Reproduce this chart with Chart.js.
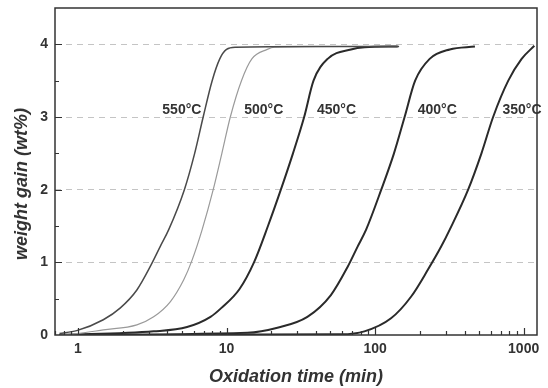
<!DOCTYPE html>
<html>
<head>
<meta charset="utf-8">
<script src="https://cdn.jsdelivr.net/npm/chart.js@4"></script>
<style>
  html, body { margin: 0; padding: 0; background: #fff; }
  #wrap { width: 548px; height: 388px; }
</style>
</head>
<body>
<div id="wrap"><canvas id="chartGain" width="548" height="388"></canvas></div>
<script>
// oxidation time (min) and weight gain (wt%)
var t550 = [0.75, 0.98, 1.48, 1.92, 2.49, 3.06, 3.58, 4.08, 5.2, 6.1, 6.96, 8.0, 9.0, 10.0, 11.5, 40, 145];
var w550 = [0.02, 0.06, 0.21, 0.37, 0.62, 0.94, 1.22, 1.45, 2.0, 2.5, 3.0, 3.5, 3.8, 3.93, 3.96, 3.97, 3.97];

var t500 = [0.75, 1.0, 1.48, 2.49, 3.23, 4.19, 5.15, 5.86, 6.85, 8.13, 9.3, 10.6, 12.6, 14.8, 18.8, 21, 60, 145];
var w500 = [0.0, 0.02, 0.07, 0.14, 0.25, 0.46, 0.76, 1.03, 1.45, 2.0, 2.5, 3.0, 3.5, 3.8, 3.93, 3.96, 3.97, 3.97];

var t450 = [0.75, 3.23, 5.42, 7.8, 9.2, 12.2, 15.3, 19.0, 23.2, 28.0, 33.3, 38.5, 47.9, 68.8, 85, 142];
var w450 = [0.0, 0.05, 0.11, 0.25, 0.37, 0.63, 1.0, 1.5, 2.0, 2.5, 3.0, 3.5, 3.8, 3.93, 3.96, 3.97];

var t400 = [0.75, 13.8, 22, 35, 50.4, 65.4, 76.4, 87, 110, 134, 158, 186, 233, 318, 470];
var w400 = [0.0, 0.03, 0.1, 0.25, 0.55, 0.94, 1.22, 1.45, 2.0, 2.5, 3.0, 3.5, 3.8, 3.93, 3.97];

var t350 = [0.75, 59, 84.7, 128, 175, 227, 279, 318, 423, 520, 623, 788, 969, 1180];
var w350 = [0.0, 0.01, 0.05, 0.23, 0.53, 0.9, 1.22, 1.45, 2.0, 2.5, 3.0, 3.5, 3.8, 3.98];

// curve labels
var labelText = ['550°C', '500°C', '450°C', '400°C', '350°C'];
var labelTime = [5.0, 17.8, 55, 262, 975];
var labelGain = [3.1, 3.1, 3.1, 3.1, 3.1];

var xTickLabels = [1, 10, 100, 1000];
var yTickLabels = [0, 1, 2, 3, 4];

function toPoints(t, w) {
  return t.map(function(v, i) { return { x: v, y: w[i] }; });
}

function makeSet(t, w, color, width) {
  return {
    data: toPoints(t, w),
    borderColor: color,
    borderWidth: width,
    pointRadius: 0,
    fill: false,
    cubicInterpolationMode: 'monotone'
  };
}

// caixa do gráfico, ticks para dentro e rótulos das curvas
var framePlugin = {
  id: 'frame',
  afterDatasetsDraw: function(chart) {
    var ctx = chart.ctx;
    var a = chart.chartArea;
    var x = chart.scales.x;
    var y = chart.scales.y;
    ctx.save();
    ctx.strokeStyle = '#333';
    ctx.lineWidth = 1.5;
    ctx.strokeRect(a.left, a.top, a.right - a.left, a.bottom - a.top);

    ctx.lineWidth = 1.2;
    ctx.beginPath();
    for (var d = 0.1; d <= 1000; d *= 10) {
      for (var m = 1; m <= 9; m++) {
        var v = m * d;
        if (v < x.min || v > x.max) continue;
        var px = Math.round(x.getPixelForValue(v)) + 0.5;
        var len = m === 1 ? 7 : 4;
        ctx.moveTo(px, a.bottom);
        ctx.lineTo(px, a.bottom - len);
      }
    }
    for (var g = 0.5; g < y.max; g += 0.5) {
      var py = Math.round(y.getPixelForValue(g)) + 0.5;
      var l2 = (g % 1 === 0) ? 7 : 4;
      ctx.moveTo(a.left, py);
      ctx.lineTo(a.left + l2, py);
    }
    ctx.stroke();

    ctx.fillStyle = '#333';
    ctx.font = 'bold 14px "Liberation Sans", Arial, sans-serif';
    ctx.textAlign = 'center';
    ctx.textBaseline = 'middle';
    labelText.forEach(function(txt, i) {
      ctx.fillText(txt, x.getPixelForValue(labelTime[i]), y.getPixelForValue(labelGain[i]));
    });
    ctx.restore();
  }
};

var ctx = document.getElementById('chartGain').getContext('2d');
var chart = new Chart(ctx, {
  type: 'line',
  data: {
    datasets: [
      makeSet(t550, w550, '#4a4a4a', 1.5),
      makeSet(t500, w500, '#9a9a9a', 1.2),
      makeSet(t450, w450, '#2a2a2a', 2),
      makeSet(t400, w400, '#2a2a2a', 2),
      makeSet(t350, w350, '#2a2a2a', 2)
    ]
  },
  options: {
    responsive: false,
    animation: false,
    layout: { padding: { top: 8, right: 11, left: 0, bottom: 0 } },
    plugins: { legend: { display: false }, tooltip: { enabled: false } },
    scales: {
      x: {
        type: 'logarithmic',
        min: 0.7,
        max: 1230,
        afterFit: function(s) { s.height = 53; s.paddingLeft = 0; s.paddingRight = 0; },
        grid: { display: false, drawTicks: false },
        border: { display: false },
        ticks: {
          autoSkip: false,
          maxRotation: 0,
          padding: 6,
          color: '#333',
          font: { family: 'Liberation Sans', size: 14, weight: 'bold' },
          callback: function(v) { return xTickLabels.indexOf(v) >= 0 ? String(v) : ''; }
        },
        title: {
          display: true,
          text: 'Oxidation time (min)',
          color: '#333',
          padding: { top: 0, bottom: 0 },
          font: { family: 'Liberation Sans', size: 18, weight: 'bold', style: 'italic' }
        }
      },
      y: {
        min: 0,
        max: 4.5,
        afterFit: function(s) { s.width = 55; s.paddingTop = 0; s.paddingBottom = 0; },
        grid: {
          drawTicks: false,
          lineWidth: 1,
          color: function(c) {
            var v = c.tick ? c.tick.value : 0;
            return (v > 0 && v < 4.5 && v % 1 === 0) ? '#c4c4c4' : 'rgba(0,0,0,0)';
          }
        },
        border: { display: false, dash: [6, 5] },
        ticks: {
          stepSize: 0.5,
          padding: 7,
          color: '#333',
          font: { family: 'Liberation Sans', size: 14, weight: 'bold' },
          callback: function(v) { return yTickLabels.indexOf(v) >= 0 ? String(v) : ''; }
        },
        title: {
          display: true,
          text: 'weight gain (wt%)     ',
          color: '#333',
          padding: { top: 11, bottom: 0 },
          font: { family: 'Liberation Sans', size: 18, weight: 'bold', style: 'italic' }
        }
      }
    }
  },
  plugins: [framePlugin]
});
</script>
</body>
</html>
